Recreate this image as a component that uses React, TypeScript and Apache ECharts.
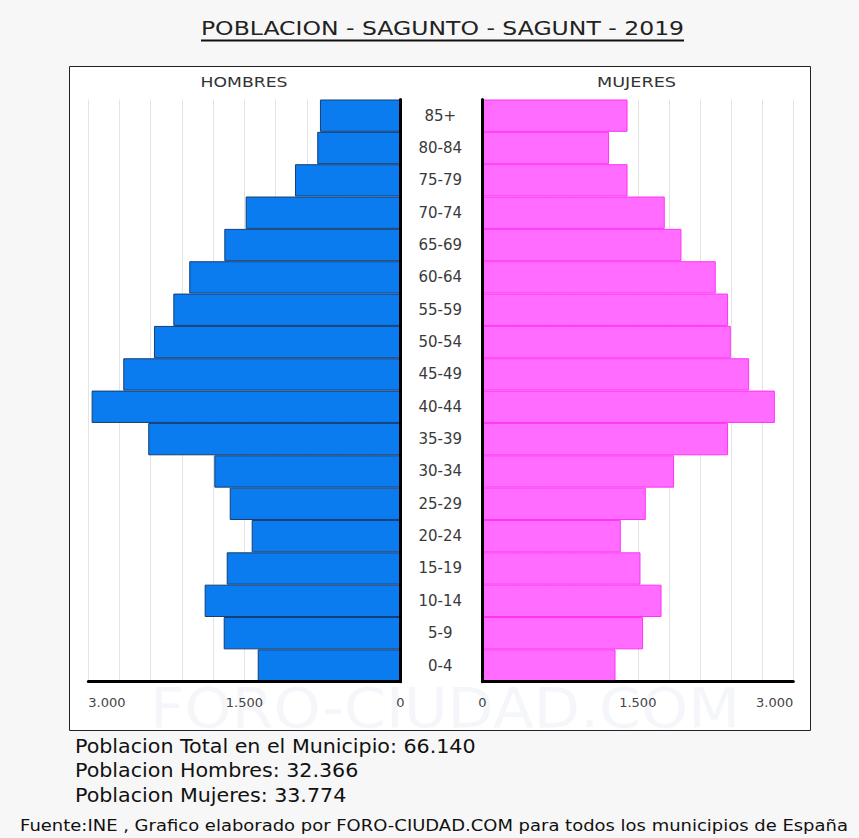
import React, { useEffect, useRef } from "react";
import * as echarts from "echarts";

const TITLE = "POBLACION - SAGUNTO - SAGUNT - 2019";
const LEFT_LABEL = "HOMBRES";
const RIGHT_LABEL = "MUJERES";
const ages = ["0-4", "5-9", "10-14", "15-19", "20-24", "25-29", "30-34", "35-39", "40-44", "45-49", "50-54", "55-59", "60-64", "65-69", "70-74", "75-79", "80-84", "85+"];
const men = [1372, 1699, 1882, 1670, 1430, 1641, 1789, 2424, 2968, 2664, 2369, 2183, 2030, 1693, 1488, 1014, 800, 774];
const women = [1285, 1551, 1729, 1526, 1336, 1577, 1850, 2371, 2822, 2574, 2397, 2371, 2252, 1921, 1760, 1401, 1223, 1401];
const AXIS_MAX = 3000;
const GRID_STEP = 300;
const LABEL_STEP = 1500;
const totals = [
  "Poblacion Total en el Municipio: 66.140",
  "Poblacion Hombres: 32.366",
  "Poblacion Mujeres: 33.774",
];
const FOOTER = "Fuente:INE , Grafico elaborado por FORO-CIUDAD.COM para todos los municipios de España";
const WATERMARK = "FORO-CIUDAD.COM";

const FONT = "DejaVu Sans";

function fmt(v: number): string {
  return String(v).replace(/\B(?=(\d{3})+(?!\d))/g, ".");
}

function measure(text: string, size: number, weight = "normal"): number {
  const c = document.createElement("canvas");
  const ctx = c.getContext("2d");
  if (!ctx) return text.length * size * 0.6;
  ctx.font = `${weight} ${size}px "${FONT}"`;
  return ctx.measureText(text).width;
}

function scaledText(text: string, cx: number, cy: number, size: number, target: number, fill: string, align: string = "center", weight = "normal", z = 10) {
  const w = measure(text, size, weight);
  return {
    type: "text",
    x: cx,
    y: cy,
    scaleX: target / w,
    z,
    style: {
      text,
      fontSize: size,
      fontFamily: FONT,
      fontWeight: weight,
      fill,
      textAlign: align,
      textVerticalAlign: "middle",
    },
  };
}

export default function App() {
  const ref = useRef<HTMLDivElement>(null);
  useEffect(() => {
    if (!ref.current) return;
    const chart = echarts.init(ref.current, undefined, { renderer: "svg" });
    const gridTop = 99.5;
    const gridH = 582.2;
    const tickLabel = {
      show: true,
      fontSize: 13,
      fontFamily: FONT,
      color: "#444",
      margin: 14,
      formatter: (v: number) => fmt(v),
    };
    const statScale = 401 / measure(totals[0], 20);
    const option: any = {
      animation: false,
      backgroundColor: "#f7f7f7",
      grid: [
        { left: 88.3, top: gridTop, width: 312.2, height: gridH },
        { left: 482.3, top: gridTop, width: 311, height: gridH },
      ],
      xAxis: [
        {
          gridIndex: 0, type: "value", inverse: true, min: 0, max: AXIS_MAX, interval: GRID_STEP, position: "bottom", z: 0,
          axisLine: { show: false }, axisTick: { show: false }, axisLabel: { show: false },
          splitLine: { show: true, lineStyle: { color: "#e3e3e3", width: 1 } },
        },
        {
          gridIndex: 0, type: "value", inverse: true, min: 0, max: AXIS_MAX, interval: LABEL_STEP, position: "bottom", z: 5,
          axisLine: { show: true, onZero: false, lineStyle: { color: "#000", width: 3 } },
          axisTick: { show: false }, splitLine: { show: false },
          axisLabel: { ...tickLabel, alignMaxLabel: "left" },
        },
        {
          gridIndex: 1, type: "value", min: 0, max: AXIS_MAX, interval: GRID_STEP, position: "bottom", z: 0,
          axisLine: { show: false }, axisTick: { show: false }, axisLabel: { show: false },
          splitLine: { show: true, lineStyle: { color: "#e3e3e3", width: 1 } },
        },
        {
          gridIndex: 1, type: "value", min: 0, max: AXIS_MAX, interval: LABEL_STEP, position: "bottom", z: 5,
          axisLine: { show: true, onZero: false, lineStyle: { color: "#000", width: 3 } },
          axisTick: { show: false }, splitLine: { show: false },
          axisLabel: { ...tickLabel, alignMaxLabel: "right" },
        },
      ],
      yAxis: [
        {
          gridIndex: 0, type: "category", data: ages, position: "right", z: 5,
          axisLine: { show: true, onZero: false, lineStyle: { color: "#000", width: 3 } },
          axisTick: { show: false }, axisLabel: { show: false }, splitLine: { show: false },
        },
        {
          gridIndex: 1, type: "category", data: ages, position: "left", z: 5,
          axisLine: { show: true, onZero: false, lineStyle: { color: "#000", width: 3 } },
          axisTick: { show: false }, splitLine: { show: false },
          axisLabel: { show: true, align: "center", margin: 42, fontSize: 15, fontFamily: FONT, color: "#3a3a3a" },
        },
      ],
      series: [
        {
          name: LEFT_LABEL, type: "bar", xAxisIndex: 1, yAxisIndex: 0, data: men, barCategoryGap: "0%", z: 2,
          itemStyle: { color: "#0b7bf0", borderColor: "#153e72", borderWidth: 1 },
        },
        {
          name: RIGHT_LABEL, type: "bar", xAxisIndex: 3, yAxisIndex: 1, data: women, barCategoryGap: "0%", z: 2,
          itemStyle: { color: "#ff6cff", borderColor: "#ff33f5", borderWidth: 1 },
        },
      ],
      graphic: {
        elements: [
          {
            type: "rect", z: -10,
            shape: { x: 69.5, y: 66.5, width: 741, height: 664 },
            style: { fill: "#ffffff", stroke: "#222", lineWidth: 1 },
          },
          scaledText(WATERMARK, 445, 708, 56, 590, "rgba(210,212,232,0.22)", "center", "normal", -5),
          scaledText(TITLE, 442.5, 28, 20, 483, "#222"),
          {
            type: "line", z: 10,
            shape: { x1: 201, y1: 40.5, x2: 684, y2: 40.5 },
            style: { stroke: "#111", lineWidth: 2 },
          },
          scaledText(LEFT_LABEL, 244, 82, 14, 87, "#333"),
          scaledText(RIGHT_LABEL, 636.5, 82, 14, 79, "#333"),
          ...totals.map((t, i) => ({
            type: "text", x: 75, y: 746 + i * 24.5, z: 10, scaleX: statScale,
            style: { text: t, fontSize: 20, fontFamily: FONT, fill: "#111", textAlign: "left", textVerticalAlign: "middle" },
          })),
          scaledText(FOOTER, 434, 826, 15, 828, "#111"),
        ],
      },
    };
    chart.setOption(option);
    return () => chart.dispose();
  }, []);
  return (
    <div
      ref={ref}
      style={{ position: "absolute", left: 0, top: 0, width: 859, height: 838 }}
    />
  );
}
